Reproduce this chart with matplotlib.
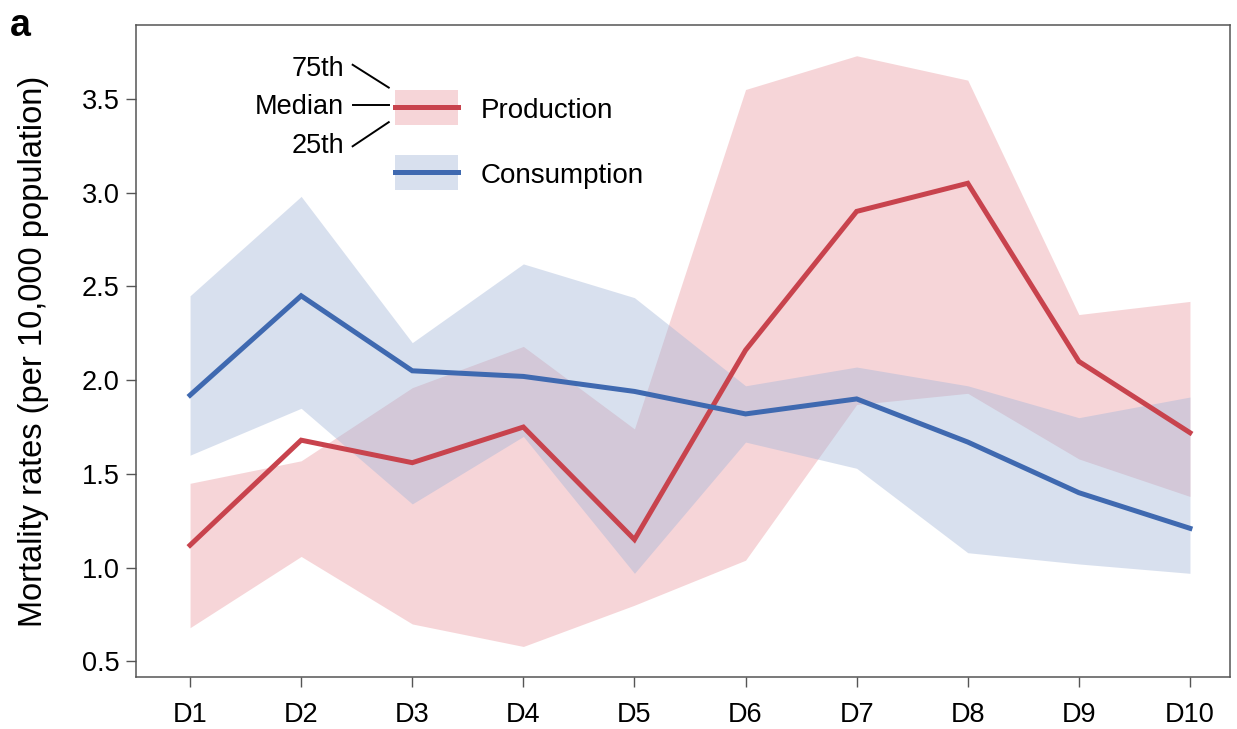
"""Production vs consumption mortality rates by decile, median with IQR bands."""

import matplotlib

matplotlib.use("Agg")
import matplotlib.pyplot as plt
from matplotlib.patches import Rectangle
from matplotlib.lines import Line2D

deciles = ["D1", "D2", "D3", "D4", "D5", "D6", "D7", "D8", "D9", "D10"]

prod_median = [1.12, 1.68, 1.56, 1.75, 1.15, 2.16, 2.90, 3.05, 2.10, 1.72]
prod_p25 = [0.68, 1.06, 0.70, 0.58, 0.80, 1.04, 1.87, 1.93, 1.58, 1.38]
prod_p75 = [1.45, 1.57, 1.96, 2.18, 1.74, 3.55, 3.73, 3.60, 2.35, 2.42]

cons_median = [1.92, 2.45, 2.05, 2.02, 1.94, 1.82, 1.90, 1.67, 1.40, 1.21]
cons_p25 = [1.60, 1.85, 1.34, 1.70, 0.97, 1.67, 1.53, 1.08, 1.02, 0.97]
cons_p75 = [2.45, 2.98, 2.20, 2.62, 2.44, 1.97, 2.07, 1.97, 1.80, 1.91]

RED = "#c8434d"
BLUE = "#3f69b0"
RED_FILL = "#eb9ca2"
BLUE_FILL = "#a3b6d8"

plt.rcParams["font.family"] = ["Liberation Sans", "DejaVu Sans"]

fig = plt.figure(figsize=(12.37, 7.29), dpi=100)
ax = fig.add_axes([0.110, 0.0713, 0.8843, 0.8944])

x = list(range(len(deciles)))
ax.fill_between(x, prod_p25, prod_p75, color=RED_FILL, alpha=0.42, lw=0)
ax.fill_between(x, cons_p25, cons_p75, color=BLUE_FILL, alpha=0.42, lw=0)
ax.plot(x, prod_median, color=RED, lw=3.6, solid_joinstyle="miter")
ax.plot(x, cons_median, color=BLUE, lw=3.6, solid_joinstyle="miter")

ax.set_xlim(-0.486, 9.36)
ax.set_ylim(0.417, 3.894)
ax.set_xticks(x)
ax.set_xticklabels(deciles)
ax.set_yticks([0.5, 1.0, 1.5, 2.0, 2.5, 3.0, 3.5])
ax.set_yticklabels(["0.5", "1.0", "1.5", "2.0", "2.5", "3.0", "3.5"])
ax.tick_params(labelsize=19.5, length=7, width=1, color="#555555")
ax.tick_params(axis="x", pad=11)
ax.tick_params(axis="y", pad=5)
for spine in ax.spines.values():
    spine.set_color("#555555")
    spine.set_linewidth(1.1)
ax.set_ylabel("Mortality rates (per 10,000 population)", fontsize=23.5)
ax.yaxis.set_label_coords(-0.080, 0.5)

# hand-drawn legend with percentile key
tr = ax.transAxes
for y0, y1, fill, col, label in [
    (0.847, 0.900, RED_FILL, RED, "Production"),
    (0.747, 0.801, BLUE_FILL, BLUE, "Consumption"),
]:
    ax.add_patch(Rectangle((0.237, y0), 0.057, y1 - y0, transform=tr,
                           facecolor=fill, alpha=0.42, lw=0))
    ym = (y0 + y1) / 2
    ax.add_line(Line2D([0.237, 0.294], [ym, ym], transform=tr, color=col, lw=3.6))
    ax.text(0.315, ym - 0.005, label, transform=tr, fontsize=20, va="center", ha="left")

for label, ty, (ly0, ly1) in [
    ("75th", 0.933, (0.939, 0.904)),
    ("Median", 0.875, (0.877, 0.877)),
    ("25th", 0.815, (0.814, 0.851)),
]:
    ax.text(0.190, ty, label, transform=tr, fontsize=19.5, va="center", ha="right")
    ax.add_line(Line2D([0.198, 0.231], [ly0, ly1], transform=tr, color="black", lw=1.4))

fig.text(0.008, 0.965, "a", fontsize=27, fontweight="bold", va="center", ha="left")

fig.savefig("out.png", dpi=100)
